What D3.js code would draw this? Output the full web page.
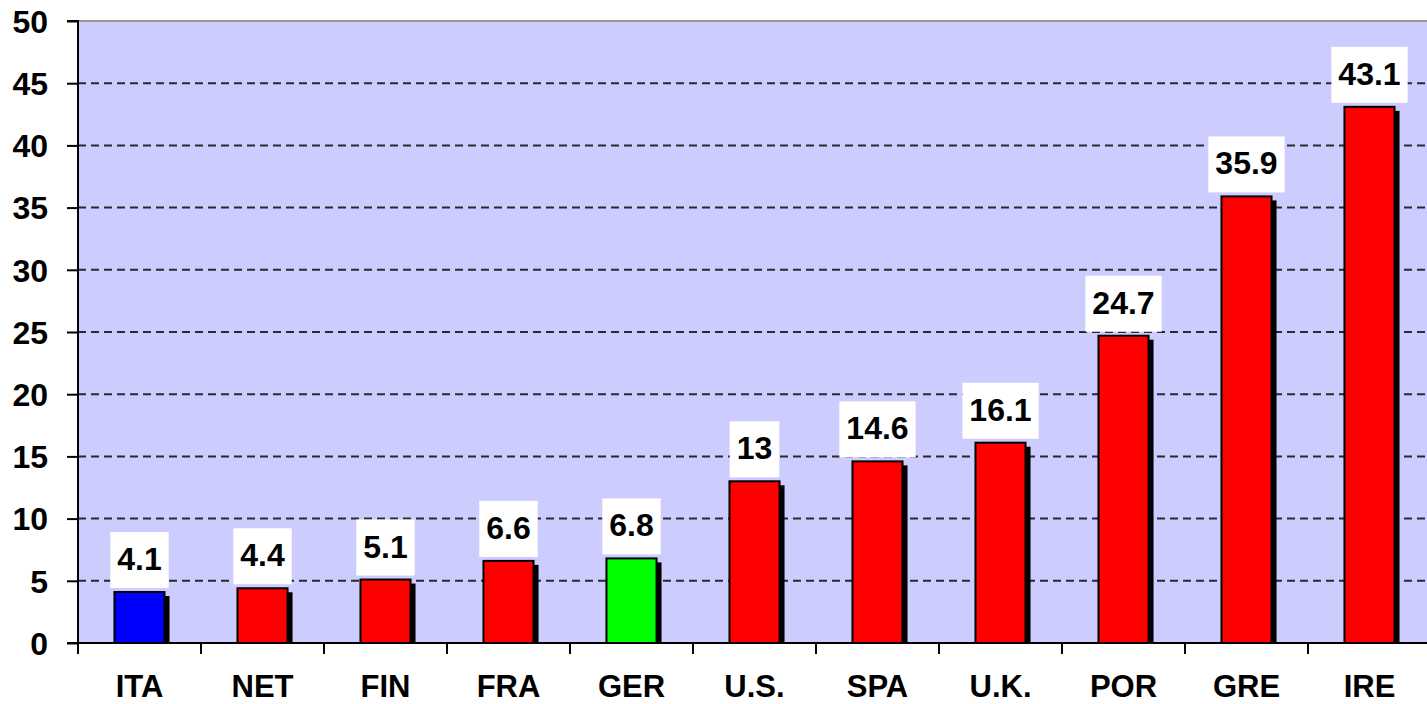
<!DOCTYPE html>
<html><head><meta charset="utf-8">
<script src="https://cdn.jsdelivr.net/npm/d3@7"></script>
<style>body{margin:0;background:#fff;overflow:hidden}svg{display:block}</style>
</head><body>
<svg id="c" width="1427" height="704"></svg>
<script>
const categories = ["ITA","NET","FIN","FRA","GER","U.S.","SPA","U.K.","POR","GRE","IRE"];
const values = [4.1,4.4,5.1,6.6,6.8,13,14.6,16.1,24.7,35.9,43.1];
const valueLabels = ["4.1","4.4","5.1","6.6","6.8","13","14.6","16.1","24.7","35.9","43.1"];
const barColors = ["#0000ff","#ff0000","#ff0000","#ff0000","#00ff00","#ff0000","#ff0000","#ff0000","#ff0000","#ff0000","#ff0000"];
const yTicks = [0,5,10,15,20,25,30,35,40,45,50];

(function(){
const svg = d3.select("#c");
const pLeft = 78, pTop = 21, pBottom = 643, band = 123;
const x = d3.scaleBand().domain(categories).range([pLeft, pLeft + band*categories.length]).paddingInner(0.593).paddingOuter(0.2965);
const y = d3.scaleLinear().domain([0,50]).range([pBottom, pTop]);
const font = "'Liberation Sans', Arial, sans-serif";

svg.append("rect").attr("x", pLeft).attr("y", pTop).attr("width", 1427-pLeft).attr("height", pBottom-pTop).attr("fill", "#ccccff");

// grid
svg.append("g").selectAll("line").data(yTicks.filter(d => d>0 && d<50)).join("line")
  .attr("x1", pLeft).attr("x2", 1427).attr("y1", d=>y(d)).attr("y2", d=>y(d))
  .attr("stroke", "#2a2a2a").attr("stroke-width", 2).attr("stroke-dasharray", "8,5");
svg.append("line").attr("x1", 67).attr("x2", 1427).attr("y1", y(50)).attr("y2", y(50)).attr("stroke", "#999").attr("stroke-width", 2);

// bars with shadow
const g = svg.append("g");
g.selectAll("rect.sh").data(values).join("rect").attr("class","sh")
  .attr("x", (d,i)=>x(categories[i])+5).attr("y", d=>y(d)+4)
  .attr("width", x.bandwidth()).attr("height", d=>pBottom - y(d) - 4).attr("fill", "#000");
g.selectAll("rect.b").data(values).join("rect").attr("class","b")
  .attr("x", (d,i)=>x(categories[i])).attr("y", d=>y(d))
  .attr("width", x.bandwidth()).attr("height", d=>pBottom - y(d))
  .attr("fill", (d,i)=>barColors[i]).attr("stroke", "#000").attr("stroke-width", 2);

// axes
const yAxis = d3.axisLeft(y).tickValues(yTicks).tickSize(11).tickPadding(16).tickFormat(d3.format("d"));
const ya = svg.append("g").attr("transform", `translate(${pLeft},0)`).call(yAxis);
ya.select(".domain").attr("stroke", "#000").attr("stroke-width", 2).attr("d", `M-11,${pTop}H0V${pBottom}`);
ya.selectAll(".tick line").attr("stroke", "#000").attr("stroke-width", 2);
ya.selectAll("text").attr("font-family", font).attr("font-weight", "bold").attr("font-size", 32).attr("fill", "#000").attr("dy", "0.35em").attr("x", -30);

const xTickScale = d3.scalePoint().domain(d3.range(categories.length+1)).range([pLeft, pLeft + band*categories.length]);
svg.append("line").attr("x1", 67).attr("x2", 1427).attr("y1", pBottom).attr("y2", pBottom).attr("stroke", "#000").attr("stroke-width", 2);
svg.append("g").selectAll("line").data(d3.range(categories.length+1)).join("line")
  .attr("x1", d=>xTickScale(d)).attr("x2", d=>xTickScale(d)).attr("y1", pBottom).attr("y2", pBottom+11)
  .attr("stroke", "#000").attr("stroke-width", 2);
svg.append("g").selectAll("text").data(categories).join("text")
  .attr("x", d=>x(d)+x.bandwidth()/2).attr("y", 697).attr("text-anchor", "middle")
  .attr("font-family", font).attr("font-weight", "bold").attr("font-size", 31).attr("fill", "#000").text(d=>d);

// value labels
const lg = svg.append("g");
values.forEach((v,i)=>{
  const cx = x(categories[i]) + x.bandwidth()/2;
  const base = y(v) - 22;
  const t = lg.append("text").attr("x", cx).attr("y", base).attr("text-anchor","middle")
    .attr("font-family", font).attr("font-weight","bold").attr("font-size",32).attr("fill","#000").text(valueLabels[i]);
  const w = t.node().getComputedTextLength();
  lg.insert("rect", "text").attr("x", cx - w/2 - 7).attr("y", base - 38).attr("width", w + 14).attr("height", 56).attr("fill", "#fff");
});
})();
</script>
</body></html>
